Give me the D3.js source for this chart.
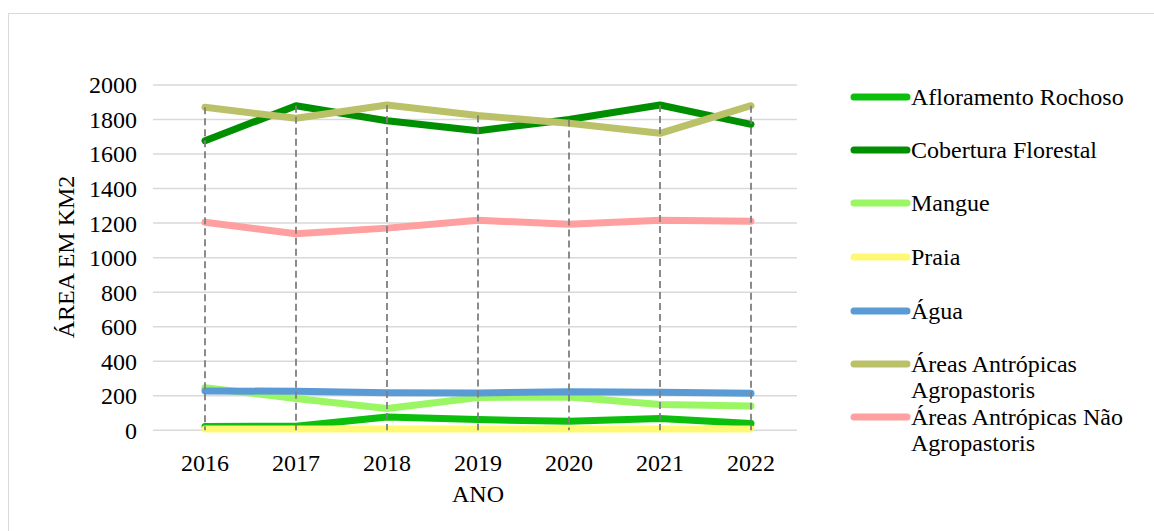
<!DOCTYPE html>
<html>
<head>
<meta charset="utf-8">
<script src="https://cdn.jsdelivr.net/npm/d3@7/dist/d3.min.js"></script>
<style>
  html, body { margin: 0; padding: 0; background: #fff; }
  svg text { font-family: "Liberation Serif", "Times New Roman", serif !important; fill: #000; }
</style>
</head>
<body>
<svg id="chart" width="1154" height="531"></svg>
<script>
// Land-cover area by year (km²)
const years = ["2016", "2017", "2018", "2019", "2020", "2021", "2022"];
const yTicks = [0, 200, 400, 600, 800, 1000, 1200, 1400, 1600, 1800, 2000];

const seriesNames = [
  "Afloramento Rochoso",
  "Cobertura Florestal",
  "Mangue",
  "Praia",
  "Água",
  "Áreas Antrópicas Agropastoris",
  "Áreas Antrópicas Não Agropastoris"
];
const afloramento = [22, 24, 77, 62, 52, 68, 39];
const cobertura   = [1677, 1880, 1793, 1735, 1800, 1884, 1772];
const mangue      = [247, 184, 126, 190, 193, 149, 141];
const praia       = [8, 8, 8, 8, 8, 8, 8];
const agua        = [228, 226, 218, 216, 224, 220, 214];
const agro        = [1871, 1807, 1884, 1823, 1778, 1720, 1880];
const naoAgro     = [1205, 1138, 1171, 1216, 1194, 1216, 1211];
const seriesColors = ["#0cbf0c", "#008f00", "#9af763", "#fff875", "#5b9bd5", "#bbc168", "#ff9f9f"];
const legendLines = [
  ["Afloramento Rochoso"],
  ["Cobertura Florestal"],
  ["Mangue"],
  ["Praia"],
  ["Água"],
  ["Áreas Antrópicas", "Agropastoris"],
  ["Áreas Antrópicas Não", "Agropastoris"]
];

const seriesValues = [afloramento, cobertura, mangue, praia, agua, agro, naoAgro];
const series = seriesNames.map((name, i) => ({
  name, color: seriesColors[i], lines: legendLines[i],
  values: seriesValues[i].map((v, j) => ({ year: years[j], value: v }))
}));

const FONT = 24;
const svg = d3.select("#chart");

// outer chart frame
svg.append("rect")
  .attr("x", 8.5).attr("y", 13.5).attr("width", 1160).attr("height", 540)
  .attr("fill", "none").attr("stroke", "#d9d9d9").attr("stroke-width", 1);

const plot = { left: 159.5, right: 796.5, top: 85, bottom: 430.3 };

const x = d3.scaleBand().domain(years).range([plot.left, plot.right]);
const cx = d => x(d) + x.bandwidth() / 2;
const y = d3.scaleLinear().domain([0, 2000]).range([plot.bottom, plot.top]);

// horizontal gridlines
svg.append("g")
  .selectAll("line").data(yTicks).join("line")
  .attr("x1", 153).attr("x2", 797)
  .attr("y1", d => y(d)).attr("y2", d => y(d))
  .attr("stroke", "#d9d9d9").attr("stroke-width", 1.5);

// y axis tick labels
const yAxis = d3.axisLeft(y).tickValues(yTicks).tickFormat(d3.format("d")).tickSize(0).tickPadding(0);
const gy = svg.append("g").attr("transform", "translate(137,0)").call(yAxis);
gy.attr("font-family", null).attr("font-size", null);
gy.select(".domain").remove();
gy.selectAll("text")
  .style("font-size", FONT + "px")
  .attr("dy", "0.33em");

// x axis tick labels
const xAxis = d3.axisBottom(x).tickSize(0).tickPadding(0);
const gx = svg.append("g").attr("transform", "translate(0,471)").call(xAxis);
gx.attr("font-family", null).attr("font-size", null);
gx.select(".domain").remove();
gx.selectAll("text")
  .style("font-size", FONT + "px")
  .attr("dy", "0");

// axis titles
svg.append("text")
  .attr("x", 478).attr("y", 502)
  .attr("text-anchor", "middle").style("font-size", FONT + "px")
  .text("ANO");
svg.append("text")
  .attr("transform", "translate(74,257) rotate(-90)")
  .attr("text-anchor", "middle").style("font-size", FONT + "px")
  .text("ÁREA EM KM2");

// series lines
const line = d3.line().x(d => cx(d.year)).y(d => y(d.value));
svg.append("g")
  .selectAll("path").data(series).join("path")
  .attr("d", d => line(d.values))
  .attr("fill", "none")
  .attr("stroke", d => d.color)
  .attr("stroke-width", 7)
  .attr("stroke-linecap", "round")
  .attr("stroke-linejoin", "round");

// drop lines from the highest value of each year down to the axis
const maxByYear = years.map((yr, j) => ({ year: yr, value: d3.max(seriesValues, s => s[j]) }));
svg.append("g")
  .selectAll("line").data(maxByYear).join("line")
  .attr("x1", d => cx(d.year)).attr("x2", d => cx(d.year))
  .attr("y1", d => y(d.value)).attr("y2", y(0))
  .attr("stroke", "#7f7f7f").attr("stroke-width", 1.8)
  .attr("stroke-dasharray", "7,4");

// legend
const legendY = [97, 150, 203, 257, 311, 364, 417];
const lg = svg.append("g");
series.forEach((s, i) => {
  const gy0 = legendY[i];
  lg.append("line")
    .attr("x1", 854).attr("x2", 907)
    .attr("y1", gy0).attr("y2", gy0)
    .attr("stroke", s.color).attr("stroke-width", 7)
    .attr("stroke-linecap", "round");
  s.lines.forEach((t, k) => {
    lg.append("text")
      .attr("x", 911).attr("y", gy0 + k * 26.5)
      .attr("dy", "0.33em")
      .style("font-size", FONT + "px")
      .text(t);
  });
});
</script>
</body>
</html>
